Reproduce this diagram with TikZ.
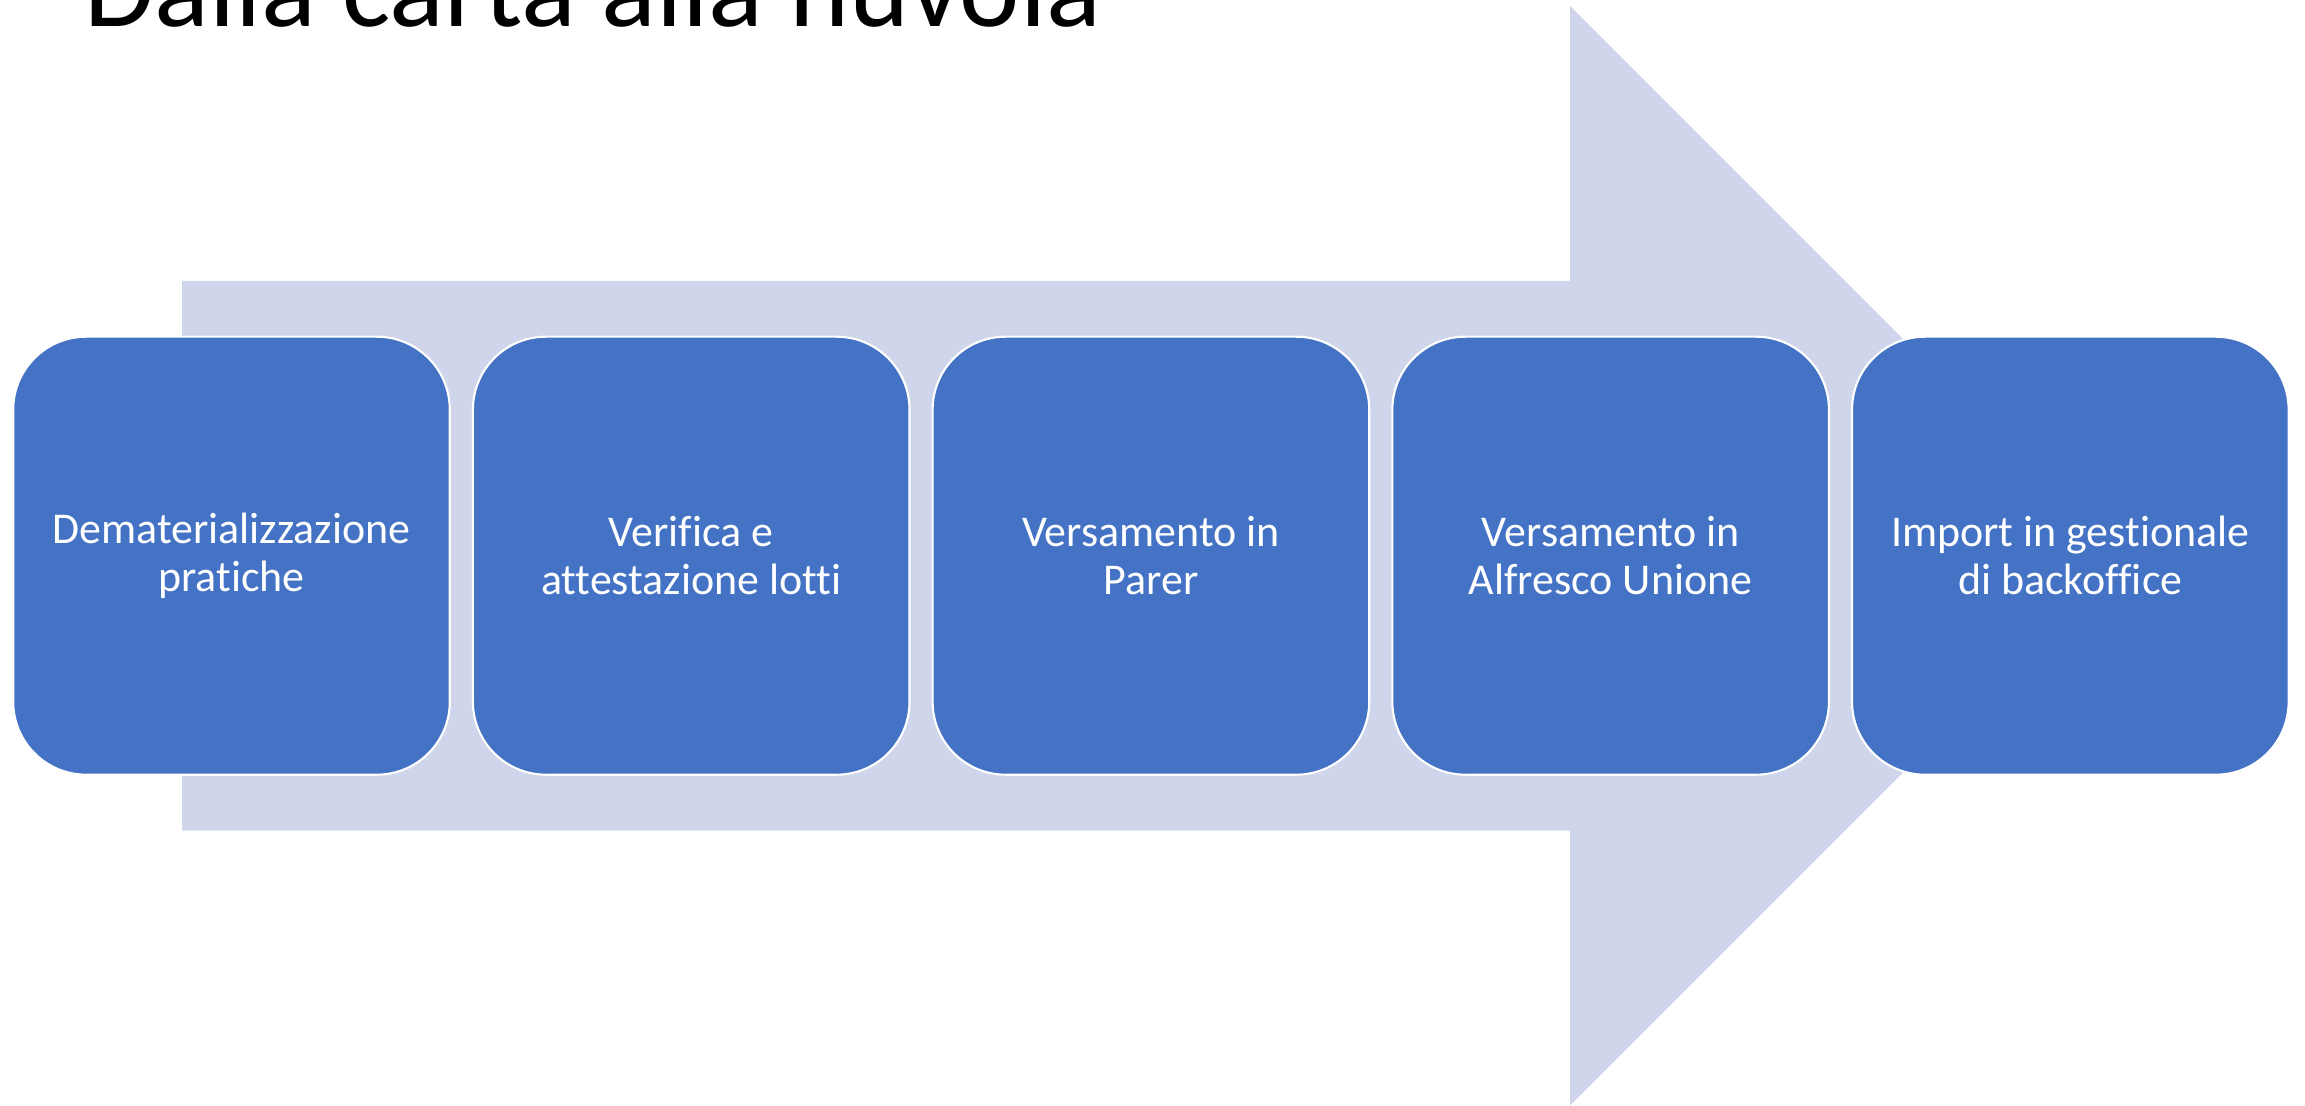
\documentclass[tikz,border=0pt]{standalone}
\usepackage{fontspec}
\setmainfont{Carlito}[Ligatures=NoCommon]
\usepackage{xcolor}
\usetikzlibrary{positioning}
\definecolor{stepblue}{HTML}{4472C4}
\definecolor{arrowgray}{HTML}{CFD5EA}
\tikzset{
    stepbox/.style={
        rectangle,
        draw=white,
        line width=0.6pt,
        rounded corners=0.73cm,
        minimum width=4.366cm,
        minimum height=4.38cm,
        fill=stepblue,
        text=white,
        align=center,
        font=\fontsize{12.5}{13.75}\selectfont
    },
    slidetitle/.style={
        anchor=base west,
        inner sep=0pt,
        text=black,
        font=\fontsize{32.5}{38}\selectfont
    },
    bigarrow/.style={
        fill=arrowgray,
        draw=none
    }
}

\begin{document}
\begin{tikzpicture}[node distance=0.21cm]
\useasboundingbox (0,0) rectangle (23.05,-11.06);
\clip (0,0) rectangle (23.05,-11.06);

% Title (cut at the top edge)
\node[slidetitle] (title) at (0.84,-0.265) {Dalla carta alla nuvola};

% Background arrow
\path[bigarrow] (1.82,-2.808) -- (15.70,-2.808) -- (15.70,-0.059)
    -- (21.198,-5.557) -- (15.70,-11.055) -- (15.70,-8.306)
    -- (1.82,-8.306) -- cycle;

% Steps
\node[stepbox] (dema) at (2.315,-5.557) {Dematerializzazione\\pratiche};
\node[stepbox, right=of dema] (verifica) {Verifica e\\attestazione lotti};
\node[stepbox, right=of verifica] (parer) {Versamento in\\Parer};
\node[stepbox, right=of parer] (alfresco) {Versamento in\\Alfresco Unione};
\node[stepbox, right=of alfresco] (backoffice) {Import in gestionale\\di backoffice};

\end{tikzpicture}
\end{document}
